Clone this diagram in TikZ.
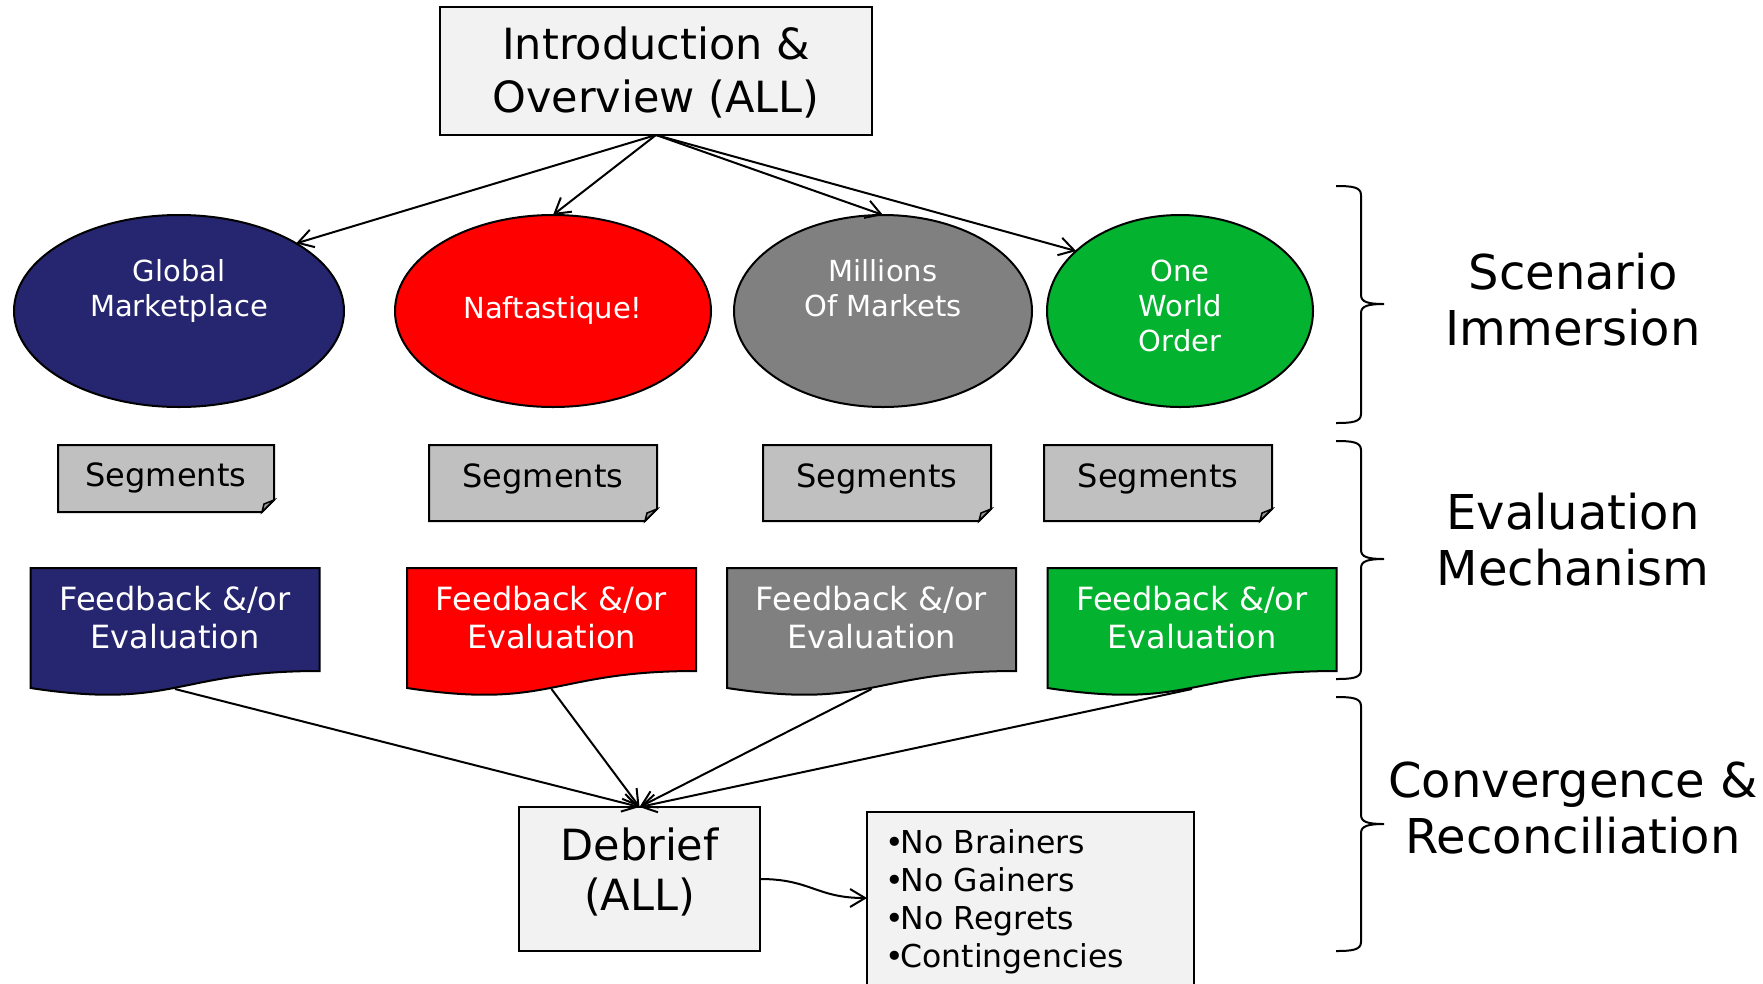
\documentclass[tikz,border=0pt]{standalone}
\usepackage{fontspec}
\setmainfont{DejaVu Sans}
\usetikzlibrary{shapes.geometric,arrows.meta,backgrounds,calc}
\definecolor{navy}{RGB}{38,38,112}
\definecolor{fbgreen}{RGB}{3,178,46}
\definecolor{midgray}{RGB}{128,128,128}
\definecolor{seggray}{RGB}{192,192,192}
\definecolor{foldgray}{RGB}{150,150,150}
\definecolor{boxfill}{RGB}{242,242,242}
\newcommand\myrbrace[3]{%
  \draw[bracepath] (1336,#1) .. controls (1352,#1) and (1361,#1+1) .. (1361,#1+9)
    -- (1361,#2-9) .. controls (1361,#2-2) and (1368,#2) .. (1384,#2)
    .. controls (1368,#2) and (1361,#2+2) .. (1361,#2+9)
    -- (1361,#3-9) .. controls (1361,#3-1) and (1352,#3) .. (1336,#3);}
\newcommand\mybul{•\kern-3pt}
\begin{document}
\begin{tikzpicture}[x=1pt,y=-1pt,
  every node/.style={inner sep=0pt,outer sep=0pt},
  ln/.style={line width=2pt,draw=black},
  conn/.style={line width=2pt,-{Straight Barb[length=15pt,width=18pt]}},
  greybox/.style={ln,fill=boxfill,rectangle,align=center},
  ell/.style={ellipse,ln,text=white,align=center,font=\fontsize{29}{35}\selectfont},
  seg/.style={rectangle,font=\fontsize{32}{38}\selectfont,text height=24.3pt,text depth=7.6pt},
  segshape/.style={ln,fill=seggray},
  fb/.style={rectangle,text=white,align=center,minimum width=289pt,minimum height=103pt,text depth=5pt,font=\fontsize{32}{38}\selectfont},
  bracepath/.style={line width=2pt},
  lbl/.style={align=center,font=\fontsize{48}{56}\selectfont}
]
\useasboundingbox (0,0) rectangle (1763,983);
\clip (0,0) rectangle (1763,983);

% top box
\node[greybox,minimum width=432pt,minimum height=128pt,font=\fontsize{43}{53}\selectfont,text depth=2.3pt] (intro) at (656,71) {Introduction \&\\Overview (ALL)};

% ellipses
\node[ell,fill=navy,minimum width=330pt,minimum height=192pt] (g) at (179,311) {Global\\Marketplace\\\strut};
\node[ell,fill=red,minimum width=316pt,minimum height=192pt] (n) at (553,311) {Naftastique!\strut};
\node[ell,fill=midgray,minimum width=298pt,minimum height=192pt] (m) at (883,311) {Millions\\Of Markets\\\strut};
\node[ell,fill=fbgreen,minimum width=266pt,minimum height=192pt] (o) at (1180,311) {One\\World\\Order\strut};

% segments
\node[seg,minimum width=216pt,minimum height=67pt] (s1) at (166,478.5) {Segments};
\node[seg,minimum width=228pt,minimum height=76pt,text depth=15.6pt] (s2) at (543,483) {Segments};
\node[seg,minimum width=228pt,minimum height=76pt,text depth=15.6pt] (s3) at (877,483) {Segments};
\node[seg,minimum width=228pt,minimum height=76pt,text depth=15.6pt] (s4) at (1158,483) {Segments};

% feedback
\node[fb] (f1) at (175,619.5) {Feedback \&/or\\Evaluation};
\node[fb] (f2) at (551.5,619.5) {Feedback \&/or\\Evaluation};
\node[fb] (f3) at (871.5,619.5) {Feedback \&/or\\Evaluation};
\node[fb] (f4) at (1192,619.5) {Feedback \&/or\\Evaluation};

% debrief
\node[greybox,minimum width=241pt,minimum height=144pt,font=\fontsize{43}{50}\selectfont,text depth=19.6pt] (d) at (639.5,879) {Debrief\\(ALL)};

% list
\node[ln,fill=boxfill,rectangle,anchor=north west,align=left,text width=291pt,inner xsep=18pt,inner ysep=18pt,font=\fontsize{31.5}{38}\selectfont] (lst) at (867,812) {\mybul No Brainers\\\mybul No Gainers\\\mybul No Regrets\\\mybul Contingencies};

% right labels
\node[lbl] (l1) at (1573,300) {Scenario\\Immersion};
\node[lbl] (l2) at (1573,540) {Evaluation\\Mechanism};
\node[lbl] (l3) at (1573,808) {Convergence \&\\Reconciliation};

% shapes behind the texts
\begin{scope}[on background layer]
\foreach \s in {s1,s2,s3,s4}{
  \path[segshape] (\s.north west) -- (\s.north east) -- ($(\s.south east)+(0,-12)$) -- ($(\s.south east)+(-12,0)$) -- (\s.south west) -- cycle;
  \path[ln,fill=foldgray,line width=1.5pt] ($(\s.south east)+(0,-12)$) -- ($(\s.south east)+(-12,0)$) -- ($(\s.south east)+(-10,-8)$) -- cycle;
}
\foreach \f/\c in {f1/navy,f2/red,f3/midgray,f4/fbgreen}{
  \path[ln,fill=\c] (\f.north west) -- (\f.north east) -- (\f.south east)
    .. controls (\f.south) and ($(\f.south)+(0,39)$) .. ($(\f.south west)+(0,17)$) -- cycle;
}
\end{scope}

% connectors
\draw[conn] (intro.south) -- (g.30);
\draw[conn] (intro.south) -- (n.north);
\draw[conn] (intro.south) -- (m.north);
\draw[conn] (intro.south) -- (o.150);
\draw[conn] ($(f1.south)+(0,18)$) -- (d.north);
\draw[conn] ($(f2.south)+(0,18)$) -- (d.north);
\draw[conn] ($(f3.south)+(0,18)$) -- (d.north);
\draw[conn] ($(f4.south)+(0,18)$) -- (d.north);
\draw[conn] (d.east) to[out=0,in=180,looseness=1.2] ($(lst.north west)+(0,86)$);

% braces
\myrbrace{186}{304}{423}
\myrbrace{441}{559}{679}
\myrbrace{697}{824}{951}
\end{tikzpicture}
\end{document}
